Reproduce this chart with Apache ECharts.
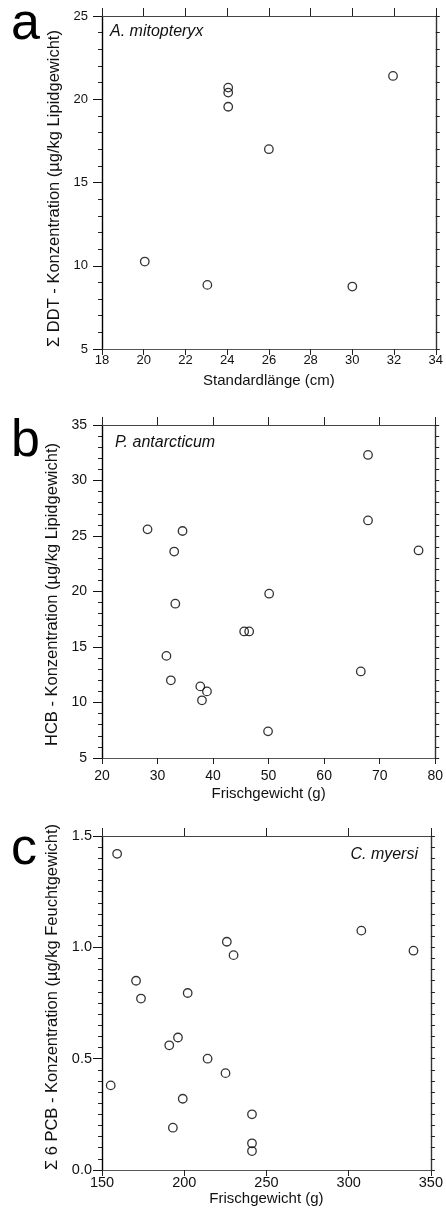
<!DOCTYPE html>
<html>
<head>
<meta charset="utf-8">
<script src="https://cdn.jsdelivr.net/npm/echarts@6/dist/echarts.min.js"></script>
<style>
html,body{margin:0;padding:0;background:#fff;}
#chart{width:446px;height:1213px;}
</style>
</head>
<body>
<div id="chart"></div>
<script>
// Panel a: A. mitopteryx
const aLength = [20.05, 23.05, 24.05, 24.05, 24.05, 26.0, 30.0, 31.95];
const aDDT    = [10.25, 8.85, 20.7, 20.4, 19.55, 17.0, 8.75, 21.4];
// Panel b: P. antarcticum
const bWeight = [28.2, 34.5, 33.0, 33.2, 31.6, 32.4, 37.7, 38.9, 38.0, 45.6, 46.5, 50.1, 49.9, 67.9, 67.9, 66.6, 77.0];
const bHCB    = [25.6, 25.45, 23.6, 18.9, 14.2, 12.0, 11.45, 11.0, 10.2, 16.4, 16.4, 19.8, 7.4, 32.3, 26.4, 12.8, 23.7];
// Panel c: C. myersi
const cWeight = [159.2, 155.3, 170.7, 173.7, 202.1, 196.2, 190.9, 214.2, 225.1, 225.9, 230.0, 199.1, 193.1, 241.2, 241.2, 241.2, 307.7, 339.4];
const cPCB    = [1.42, 0.38, 0.85, 0.77, 0.795, 0.595, 0.56, 0.50, 0.435, 1.025, 0.965, 0.32, 0.19, 0.25, 0.12, 0.085, 1.075, 0.985];

const panelLetters = ['a', 'b', 'c'];
const speciesNames = ['A. mitopteryx', 'P. antarcticum', 'C. myersi'];
const xTitles = ['Standardlänge (cm)', 'Frischgewicht (g)', 'Frischgewicht (g)'];
const yTitles = ['\u03A3 DDT - Konzentration (\u00B5g/kg Lipidgewicht)',
                 'HCB - Konzentration (\u00B5g/kg Lipidgewicht)',
                 '\u03A3 6 PCB - Konzentration (\u00B5g/kg Feuchtgewicht)'];
const xRanges = [[18, 34, 2], [20, 80, 10], [150, 350, 50]];
const yRanges = [[5, 25, 5, 5], [5, 35, 5, 5], [0, 1.5, 0.5, 10]];

const FONT = 'Liberation Sans, Arial, Helvetica, sans-serif';

const layout = [
  {left: 102, top: 16,  width: 341, height: 333, xFs: 13,   yFs: 13,   xMargin: 5,  yMargin: 14, xGap: 24, yGap: 39, yPad: [0, 12, 0, 0]},
  {left: 102, top: 425, width: 340, height: 333, xFs: 14,   yFs: 14,   xMargin: 11, yMargin: 15, xGap: 28, yGap: 36, yPad: [0, 6, 0, 0]},
  {left: 102, top: 836, width: 340, height: 334, xFs: 14.5, yFs: 14.5, xMargin: 5,  yMargin: 10, xGap: 21, yGap: 39, yPad: [0, 0, 0, 12]}
];

const grids = [], xAxes = [], yAxes = [], series = [];
const xs = [aLength, bWeight, cWeight];
const ys = [aDDT, bHCB, cPCB];

for (let i = 0; i < 3; i++) {
  const L = layout[i];
  grids.push({left: L.left, top: L.top, width: L.width, height: L.height, containLabel: false});
  const [xmin, xmax, xint] = xRanges[i];
  const [ymin, ymax, yint, ysplit] = yRanges[i];
  xAxes.push({
    gridIndex: i, type: 'value', position: 'bottom', min: xmin, max: xmax, interval: xint,
    axisLine: {onZero: false, lineStyle: {color: '#555', width: 1}},
    axisTick: {show: true, length: 6, lineStyle: {color: '#222', width: 1}},
    axisLabel: {margin: L.xMargin, fontSize: L.xFs, color: '#111', fontFamily: FONT},
    splitLine: {show: false},
    name: xTitles[i], nameLocation: 'middle', nameGap: L.xGap,
    nameTextStyle: {fontSize: 15, color: '#111', fontFamily: FONT}
  });
  xAxes.push({
    gridIndex: i, type: 'value', position: 'top', min: xmin, max: xmax, interval: xint,
    axisLine: {onZero: false, lineStyle: {color: '#444', width: 1}},
    axisTick: {show: true, length: 8, lineStyle: {color: '#222', width: 1}},
    axisLabel: {show: false},
    splitLine: {show: false}
  });
  yAxes.push({
    gridIndex: i, type: 'value', position: 'left', min: ymin, max: ymax, interval: yint,
    axisLine: {onZero: false, lineStyle: {color: '#000', width: 1.4}},
    axisTick: {show: true, length: 9, lineStyle: {color: '#111', width: 1}},
    minorTick: {show: true, splitNumber: ysplit, length: 4, lineStyle: {color: '#222', width: 1}},
    axisLabel: {margin: L.yMargin, fontSize: L.yFs, color: '#111', fontFamily: FONT,
      formatter: i === 2 ? (v => v.toFixed(1)) : (v => String(v))},
    splitLine: {show: false}, minorSplitLine: {show: false},
    name: yTitles[i], nameLocation: 'middle', nameGap: L.yGap, nameRotate: 90,
    nameTextStyle: {fontSize: 16.5, color: '#111', fontFamily: FONT, padding: L.yPad}
  });
  yAxes.push({
    gridIndex: i, type: 'value', position: 'right', min: ymin, max: ymax, interval: yint / ysplit,
    axisLine: {onZero: false, lineStyle: {color: '#333', width: 1.4}},
    axisTick: {show: true, length: 4, lineStyle: {color: '#222', width: 1}},
    axisLabel: {show: false},
    splitLine: {show: false}
  });
  series.push({
    type: 'scatter', xAxisIndex: i * 2, yAxisIndex: i * 2,
    data: xs[i].map((x, k) => [x, ys[i][k]]),
    symbol: 'circle', symbolSize: 8.5,
    itemStyle: {color: 'rgba(255,255,255,0)', borderColor: '#000', borderWidth: 1.3},
    emphasis: {disabled: true}, silent: true
  });
}

const letterPos = [[11, 25], [11, 442], [11, 850]];
const speciesPos = [[110, 31.5, 'left'], [115, 442.5, 'left'], [418, 854.5, 'right']];
const graphic = [];
for (let i = 0; i < 3; i++) {
  graphic.push({type: 'text', x: letterPos[i][0], y: letterPos[i][1], silent: true,
    style: {text: panelLetters[i], fontSize: 52, fontFamily: FONT, fill: '#000',
      align: 'left', verticalAlign: 'middle', textAlign: 'left', textVerticalAlign: 'middle'}});
  graphic.push({type: 'text', x: speciesPos[i][0], y: speciesPos[i][1], silent: true,
    style: {text: speciesNames[i], fontSize: 16, fontStyle: 'italic', fontFamily: FONT, fill: '#111',
      align: speciesPos[i][2], verticalAlign: 'middle', textAlign: speciesPos[i][2], textVerticalAlign: 'middle'}});
}

const chart = echarts.init(document.getElementById('chart'), null, {renderer: 'canvas'});
chart.setOption({
  animation: false,
  backgroundColor: '#fff',
  grid: grids, xAxis: xAxes, yAxis: yAxes, series: series, graphic: graphic
});
</script>
</body>
</html>
